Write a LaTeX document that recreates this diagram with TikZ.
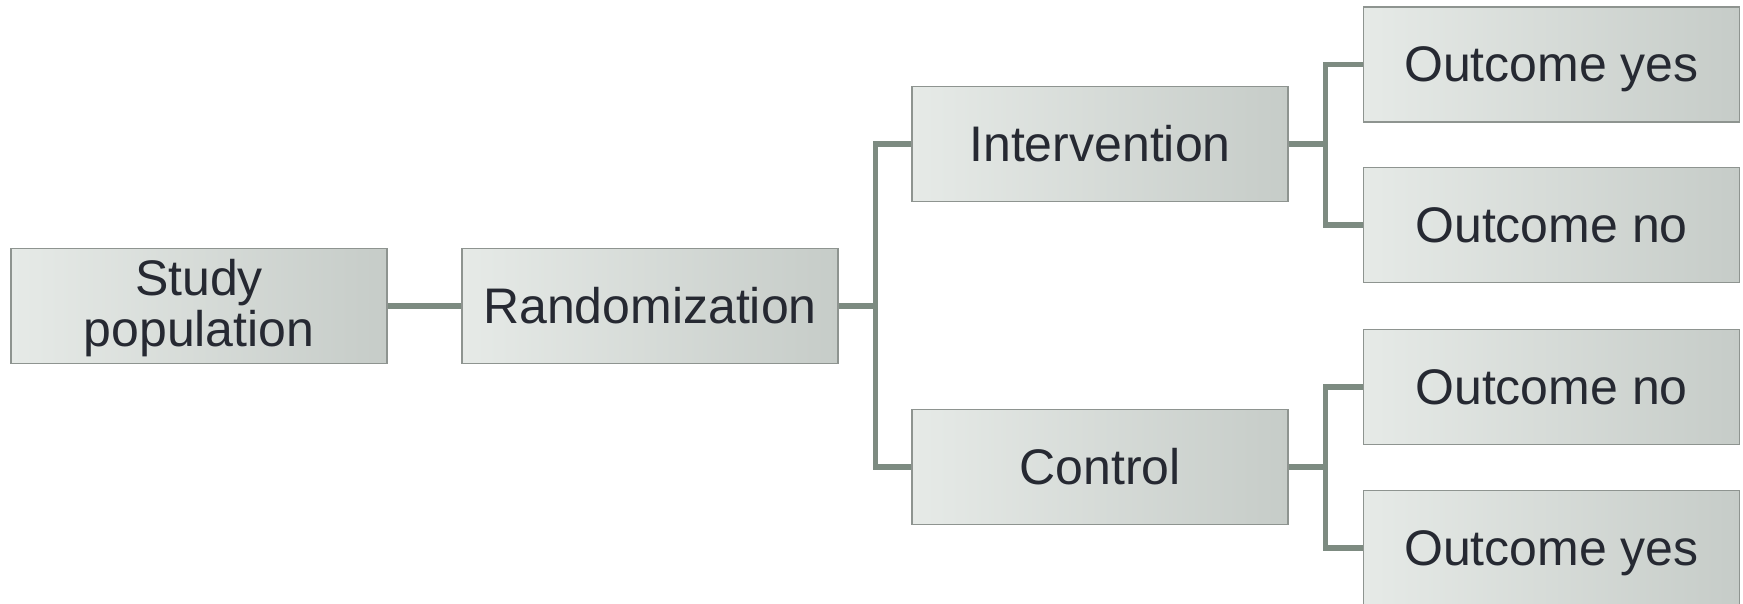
\documentclass[tikz,border=0pt]{standalone}
\usepackage{fontspec}
\setmainfont{Liberation Sans}
\usepackage{tikz}

\definecolor{boxlight}{HTML}{E6EAE7}
\definecolor{boxdark}{HTML}{C6CCC8}
\definecolor{boxrule}{HTML}{8E9490}
\definecolor{linkcol}{HTML}{7D8B81}
\definecolor{textcol}{HTML}{262932}

\begin{document}
\begin{tikzpicture}[x=0.5pt,y=-0.5pt]
\tikzstyle{every node}+=[inner sep=0pt]
\tikzstyle{box}=[draw=boxrule, line width=0.6pt, left color=boxlight, right color=boxdark,
  minimum width=188pt, minimum height=57.5pt, align=center, text=textcol,
  text height=21.8pt, text depth=4.5pt, font=\fontsize{25}{25.5}\selectfont]
\tikzstyle{link}=[draw=linkcol, line width=2.6pt]
\useasboundingbox (0,0) rectangle (1743,604);
% boxes
\node [box, text height=45pt] (study) at (199,306) {Study\\population};
\node [box] (rand) at (650,306) {Randomization};
\node [box] (inter) at (1100,144) {Intervention};
\node [box] (ctrl) at (1100,467) {Control};
\node [box] (iyes) at (1551.5,64.5) {Outcome yes};
\node [box] (ino) at (1551.5,225) {Outcome no};
\node [box] (cno) at (1551.5,387) {Outcome no};
\node [box] (cyes) at (1551.5,548) {Outcome yes};
% connectors
\draw [link] (study) -- (rand);
\draw [link] (rand.east) -- ++(37,0) |- (inter.west);
\draw [link] (rand.east) -- ++(37,0) |- (ctrl.west);
\draw [link] (inter.east) -- ++(37,0) |- (iyes.west);
\draw [link] (inter.east) -- ++(37,0) |- (ino.west);
\draw [link] (ctrl.east) -- ++(37,0) |- (cno.west);
\draw [link] (ctrl.east) -- ++(37,0) |- (cyes.west);
\end{tikzpicture}
\end{document}
